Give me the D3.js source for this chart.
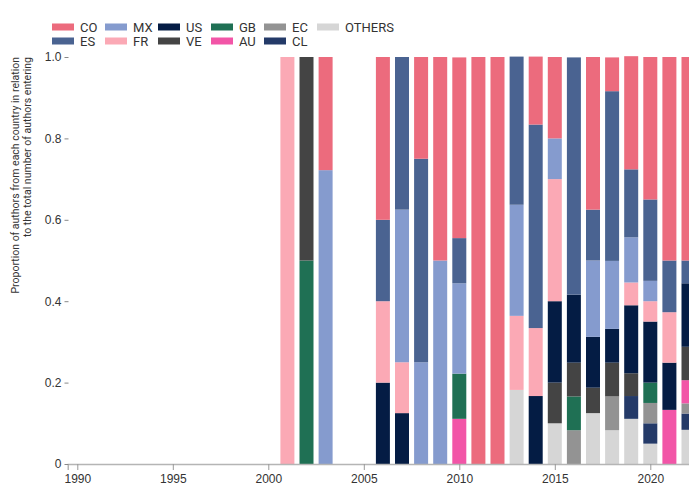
<!DOCTYPE html>
<html>
<head>
<meta charset="utf-8">
<script src="https://cdn.jsdelivr.net/npm/d3@7"></script>
<style>
  html, body { margin: 0; padding: 0; background: #fff; }
  svg { display: block; font-family: Roboto, "Liberation Sans", sans-serif; }
</style>
</head>
<body>
<svg id="chart" width="689" height="488"></svg>
<script>
const years = [2001, 2002, 2003, 2006, 2007, 2008, 2009, 2010, 2011, 2012, 2013, 2014, 2015, 2016, 2017, 2018, 2019, 2020, 2021, 2022];
const countries = ["CO", "ES", "MX", "FR", "US", "VE", "GB", "AU", "EC", "CL", "OTHERS"];
const colors = ["#ec6b7d", "#4a6391", "#859bce", "#fba9b5", "#041c44", "#444444", "#1f7054", "#f255a7", "#939393", "#243a68", "#d6d6d6"];
const CO     = [0, 0, 0.278, 0.4, 0, 0.25, 0.5, 0.444, 1, 1, 0, 0.167, 0.2, 0, 0.375, 0.083, 0.278, 0.35, 0.5, 0.5];
const ES     = [0, 0, 0, 0.2, 0.375, 0.5, 0, 0.111, 0, 0, 0.364, 0.5, 0, 0.583, 0.125, 0.417, 0.167, 0.2, 0.127, 0.056];
const MX     = [0, 0, 0.722, 0, 0.375, 0.25, 0.5, 0.222, 0, 0, 0.273, 0, 0.1, 0, 0.1875, 0.167, 0.111, 0.05, 0, 0];
const FR     = [1, 0, 0, 0.2, 0.125, 0, 0, 0, 0, 0, 0.182, 0.167, 0.3, 0, 0, 0, 0.056, 0.05, 0.124, 0];
const US     = [0, 0, 0, 0.2, 0.125, 0, 0, 0, 0, 0, 0, 0.167, 0.2, 0.167, 0.125, 0.083, 0.167, 0.15, 0.116, 0.156];
const VE     = [0, 0.5, 0, 0, 0, 0, 0, 0, 0, 0, 0, 0, 0.1, 0.083, 0.0625, 0.083, 0.056, 0, 0, 0.082];
const GB     = [0, 0.5, 0, 0, 0, 0, 0, 0.111, 0, 0, 0, 0, 0, 0.083, 0, 0, 0, 0.05, 0, 0];
const AU     = [0, 0, 0, 0, 0, 0, 0, 0.111, 0, 0, 0, 0, 0, 0, 0, 0, 0, 0, 0.133, 0.057];
const EC     = [0, 0, 0, 0, 0, 0, 0, 0, 0, 0, 0, 0, 0, 0.083, 0, 0.083, 0, 0.05, 0, 0.025];
const CL     = [0, 0, 0, 0, 0, 0, 0, 0, 0, 0, 0, 0, 0, 0, 0, 0, 0.056, 0.05, 0, 0.04];
const OTHERS = [0, 0, 0, 0, 0, 0, 0, 0, 0, 0, 0.182, 0, 0.1, 0, 0.125, 0.083, 0.111, 0.05, 0, 0.084];
const xTicks = [1990, 1995, 2000, 2005, 2010, 2015, 2020];
const yTicks = [0, 0.2, 0.4, 0.6, 0.8, 1.0];

const seriesValues = {CO, ES, MX, FR, US, VE, GB, AU, EC, CL, OTHERS};
const table = years.map((yr, i) => {
  const row = {year: yr};
  countries.forEach(c => row[c] = seriesValues[c][i]);
  return row;
});
const color = d3.scaleOrdinal().domain(countries).range(colors);

const svg = d3.select("#chart");
const x = d3.scaleLinear().domain([1989.5, 2022.5]).range([67.75, 698.05]);
const y = d3.scaleLinear().domain([0, 1]).range([464, 57]);
const barW = 14;

// stack: bottom is OTHERS, top is CO
const stack = d3.stack().keys(countries.slice().reverse());
const layers = stack(table);

svg.append("g").selectAll("g")
  .data(layers).join("g")
  .attr("fill", d => color(d.key))
  .selectAll("rect")
  .data(d => d.filter(p => p[1] - p[0] > 0))
  .join("rect")
  .attr("x", d => x(d.data.year) - barW / 2)
  .attr("width", barW)
  .attr("y", d => y(d[1]))
  .attr("height", d => y(d[0]) - y(d[1]));

// x axis
const xAxis = svg.append("g").attr("transform", "translate(0,464)")
  .call(d3.axisBottom(x).tickValues(xTicks).tickFormat(d3.format("d")).tickSize(6).tickPadding(4));
xAxis.select(".domain").attr("stroke", "#b5b5b5").attr("stroke-width", 1.5);
xAxis.selectAll(".tick line").attr("stroke", "#999");
xAxis.selectAll("text").attr("fill", "#333").style("font-size", "12px");

// y axis
const yAxis = svg.append("g").attr("transform", "translate(68.5,0)")
  .call(d3.axisLeft(y).tickValues(yTicks).tickFormat(d => d === 0 ? "0" : d.toFixed(1)).tickSize(4).tickPadding(3));
yAxis.select(".domain").remove();
yAxis.selectAll(".tick line").attr("stroke", "#888");
yAxis.selectAll("text").attr("fill", "#333").style("font-size", "12px");

// y title
const title = svg.append("text")
  .attr("transform", "translate(15,57) rotate(-90)")
  .attr("text-anchor", "end")
  .attr("fill", "#333")
  .style("font-size", "10.5px");
title.append("tspan").attr("x", 0).attr("dy", "0.35em").text("Proportion of authors from each country in relation");
title.append("tspan").attr("x", 0).attr("dy", "1.15em").text("to the total number of authors entering");

// legend: two rows, column-major
const legend = svg.append("g");
countries.forEach((c, i) => {
  const col = Math.floor(i / 2), row = i % 2;
  const g = legend.append("g").attr("transform", `translate(${52 + col * 53},${27 + row * 14})`);
  g.append("rect").attr("x", 0).attr("y", -3.5).attr("width", 22).attr("height", 7).attr("fill", color(c));
  g.append("text").attr("x", 28).attr("y", 0).attr("dy", "0.35em")
    .attr("fill", "#333").style("font-size", "13px").text(c);
});
</script>
</body>
</html>
